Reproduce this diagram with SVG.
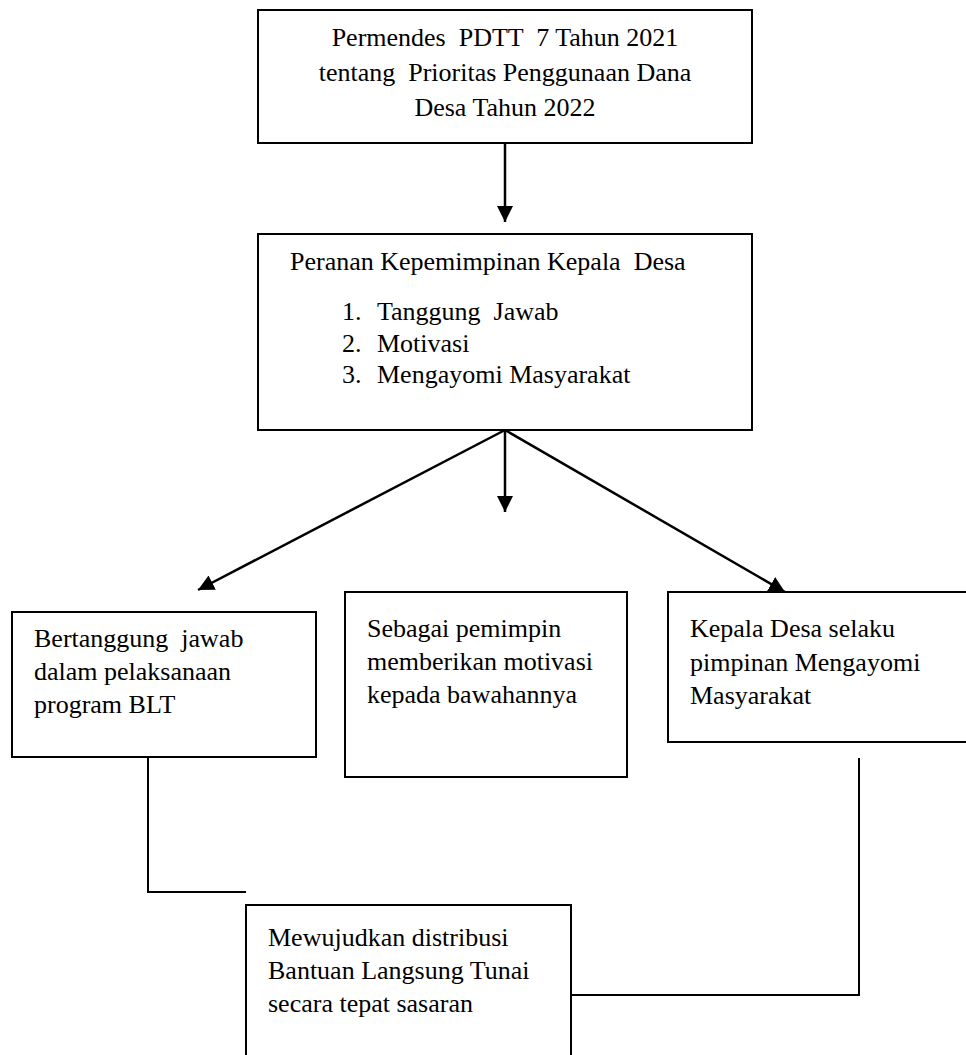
<svg xmlns="http://www.w3.org/2000/svg" width="966" height="1055" viewBox="0 0 966 1055">
<style>
.box{fill:#fff;stroke:#000;stroke-width:2}
.t{font-family:"Liberation Serif","Times New Roman",serif;font-size:26px;fill:#000;white-space:pre}
.c{text-anchor:middle}
.ln{fill:none;stroke:#000;stroke-width:2.5}
.ln2{fill:none;stroke:#000;stroke-width:2}
</style>
<defs>
<marker id="ah" markerWidth="16" markerHeight="16" refX="16" refY="8" orient="auto" markerUnits="userSpaceOnUse">
<path d="M0,0 L16,8 L0,16 Z" fill="#000"/>
</marker>
</defs>
<g id="connectors">
<line class="ln" x1="505" y1="143" x2="505" y2="222" marker-end="url(#ah)"/>
<line class="ln" x1="505" y1="430" x2="198" y2="590" marker-end="url(#ah)"/>
<line class="ln" x1="505" y1="430" x2="505" y2="512" marker-end="url(#ah)"/>
<line class="ln" x1="505" y1="430" x2="785" y2="592" marker-end="url(#ah)"/>
<polyline class="ln2" points="148,757 148,892 246,892"/>
<polyline class="ln2" points="859,758 859,995 571,995"/>
</g>
<g id="n1">
<rect class="box" x="258" y="10" width="494" height="133"/>
<text class="t c" x="505" y="46">Permendes  PDTT  7 Tahun 2021</text>
<text class="t c" x="505" y="81">tentang  Prioritas Penggunaan Dana</text>
<text class="t c" x="505" y="116">Desa Tahun 2022</text>
</g>
<g id="n2">
<rect class="box" x="258" y="234" width="494" height="196"/>
<text class="t" x="290" y="270">Peranan Kepemimpinan Kepala  Desa</text>
<text class="t" x="342" y="320">1.</text>
<text class="t" x="377" y="320">Tanggung  Jawab</text>
<text class="t" x="342" y="352">2.</text>
<text class="t" x="377" y="352">Motivasi</text>
<text class="t" x="342" y="383">3.</text>
<text class="t" x="377" y="383">Mengayomi Masyarakat</text>
</g>
<g id="n3">
<rect class="box" x="12" y="612" width="304" height="145"/>
<text class="t" x="34" y="647">Bertanggung  jawab</text>
<text class="t" x="34" y="680">dalam pelaksanaan</text>
<text class="t" x="34" y="713">program BLT</text>
</g>
<g id="n4">
<rect class="box" x="345" y="592" width="282" height="185"/>
<text class="t" x="367" y="637">Sebagai pemimpin</text>
<text class="t" x="367" y="670">memberikan motivasi</text>
<text class="t" x="367" y="703">kepada bawahannya</text>
</g>
<g id="n5">
<rect class="box" x="668" y="592" width="310" height="150"/>
<text class="t" x="690" y="637">Kepala Desa selaku</text>
<text class="t" x="690" y="671">pimpinan Mengayomi</text>
<text class="t" x="690" y="704">Masyarakat</text>
</g>
<g id="n6">
<rect class="box" x="246" y="905" width="325" height="160"/>
<text class="t" x="268" y="946">Mewujudkan distribusi</text>
<text class="t" x="268" y="979">Bantuan Langsung Tunai</text>
<text class="t" x="268" y="1012">secara tepat sasaran</text>
</g>
</svg>
